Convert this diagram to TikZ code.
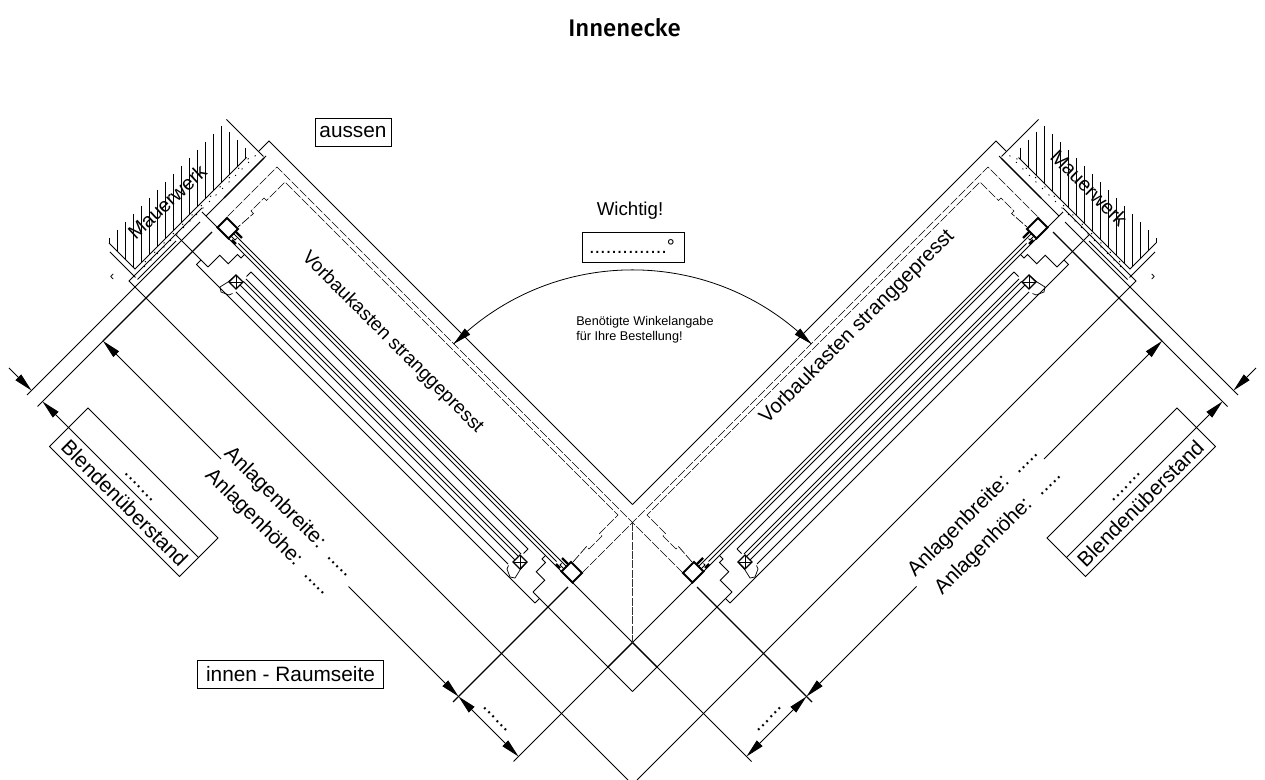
\documentclass[tikz,border=0pt]{standalone}
\usepackage{fontspec}
\setmainfont{Liberation Sans}
\newfontfamily\titlefont{Fira Sans Medium}
\usetikzlibrary{arrows.meta}
\tikzset{
  sc/.style={x={(0.375pt,-0.375pt)},y={(-0.375pt,-0.375pt)}},
  ln/.style={line width=0.55pt},
  thickln/.style={line width=1pt},
  boxln/.style={line width=1.4pt},
  dashln/.style={line width=0.5pt,dash pattern=on 7pt off 1.5pt},
  arr/.style={line width=0.55pt,-{Triangle[length=14pt,width=6pt]}},
  arrboth/.style={line width=0.55pt,{Triangle[length=14pt,width=6pt]}-{Triangle[length=14pt,width=6pt]}},
  lbl/.style={inner sep=0pt,anchor=base,font=\fontsize{15.6pt}{18pt}\selectfont},
  boxed/.style={draw,line width=0.6pt,inner sep=0pt,font=\fontsize{15.6pt}{18pt}\selectfont}
}
\newcommand{\srect}[4]{(#1,#2)--(#3,#2)--(#3,#4)--(#1,#4)--cycle}
\newcommand{\winend}[2]{%
  \begin{scope}[shift={(800,0)},x={({#1*0.375pt},{-#1*0.375pt})}]
    % end box of the frame
    \draw[boxln] \srect{333}{-9}{355}{10};
    \draw[ln] (325,59)--(325,35.5)--(308,35.5)--(308,17)--(301,17)--(301,10);
    \draw[ln] (277,21)--(277,30);
    % glazing block
    \begin{scope}[shift={(0,#2)}]
    \draw[thickln] \srect{275}{35}{289}{49};
    \draw[ln] (275,35)--(289,49) (275,49)--(289,35);
    \draw[ln] (274,57)--(276,62)--(287,67)--(293,63)--(290,50)--(289,35);
    \end{scope}
    % small clip
    \draw[ln] (320,0)--(333,0)--(333,5)--(325,5)--(325,2);
    \draw[line width=1.6pt] (320,-4)--(333,-4);
    \draw[line width=1.8pt] (320,8)--(328,8);
  \end{scope}
}
\newcommand{\halfdraw}{%
  \begin{scope}[sc]
    % wall
    \draw[ln] (352,134)--(404,134)--(404,-89);
    \draw[ln] (362,142)--(413,142);
    \draw[ln] (346,-107)--(420,-107);
    \draw[line width=0.6pt,dash pattern=on 0.9pt off 6pt] (411,-100)--(411,130);
    \draw[line width=0.6pt,dash pattern=on 0.9pt off 9pt] (407,-90)--(407,125);
    % outer box
    \draw[ln] (1137,-128)--(410,-128)--(410,-108);
    \draw[ln] (410,6)--(410,152)--(1408,152);
    \draw[ln] (417,142)--(417,65);
    % dashed inner outlines
    \draw[dashln] (1155,-9)--(1155,-110)--(444,-110)--(444,-7);
    \draw[dashln] (1135,-11)--(1133,-40)--(1138,-40)--(1138,-66)--(1133,-66)--(1133,-103)--(467,-103)--(467,-66)--(462,-66)--(462,-40)--(467,-40)--(465,-11);
    % extension lines
    \draw[ln] (422,368)--(422,22);
    \draw[ln] (422,10)--(422,-110);
    \draw[thickln] (422,-26)--(422,-106);
    \draw[ln] (444,369)--(444,238);
    \draw[thickln] (444,238)--(444,20);
    \draw[thickln] (1155,249)--(1155,19);
    \draw[ln] (1513,10)--(414,10);
    \draw[thickln] (1275,10)--(1324,10);
    \draw[ln] (410,59)--(475,59);
    \draw[ln] (1125,59)--(1324,59);
    \draw[ln] (1138,68)--(461,68)--(461,59);
    \draw[ln] (1138,68)--(1138,59);
    % window lines
    \foreach \c/\d in {0/320,5/318,21/277,33/275,38/275,45/275,56/272}
      \draw[ln] ({800-\d},\c)--({800+\d},\c);
    \winend{1}{0}
    \winend{-1}{4}
    % dimensions
    \draw[arr] (680,238)--(444,238);
    \draw[arr] (935,238)--(1155,238);
    \draw[arrboth] (1155,238)--(1275,238);
    \draw[arr] (377,359)--(422,359);
    \draw[arr] (497,359)--(444,359);
    \draw[ln] \srect{496}{320}{756}{397};
    \draw[ln] (496,359)--(756,359);
  \end{scope}
  % hatching
  \foreach \hx in {109,117,...,245}{
    \pgfmathsetmacro\ytop{max(347-\hx,\hx-97)}
    \pgfmathsetmacro\ybot{min(404-\hx,\hx+134)}
    \draw[line width=0.5pt] (\hx,\ytop)--(\hx,\ybot);
  }
  % angle arrow
  \draw[arr] (467,332)--(453.6,344);
}
\begin{document}
\begin{tikzpicture}[x=0.75pt,y=-0.75pt,line cap=butt]
\useasboundingbox (0,0) rectangle (1265,780);
\fill[white] (0,0) rectangle (1265,780);
\halfdraw
\begin{scope}[xshift=948.75pt,xscale=-1]
\halfdraw
\end{scope}
% centre line
\draw[line width=1.1pt,dash pattern=on 6pt off 1pt,black!80] (632.5,523)--(632.5,643);
% angle arc
\draw[line width=0.6pt] (453.6,344) arc[start angle=135,end angle=45,radius=189.75pt];
% texts
\node[inner sep=0pt,font=\titlefont\fontsize{18pt}{18pt}\selectfont] (title) at (624.5,28) {Innenecke};
\node[boxed,minimum width=57pt,minimum height=21pt] (aussen) at (353,132) {aussen};
\node[boxed,minimum width=140pt,minimum height=21pt] (innen) at (290.5,674) {innen - Raumseite};
\node[lbl,font=\fontsize{14pt}{16pt}\selectfont] (wichtig) at (630,216) {Wichtig!};
\node[draw,line width=0.6pt,minimum width=76.5pt,minimum height=23pt,inner sep=0pt] (anglebox) at (633,247.5) {};
\node[lbl,font=\fontsize{15pt}{16pt}\selectfont] (angleval) at (632,254) {..............°};
\node[inner sep=0pt,anchor=west,align=left,font=\fontsize{9.5pt}{11.25pt}\selectfont] (hint) at (576,330) {Benötigte Winkelangabe\\für Ihre Bestellung!};
\node[lbl,font=\fontsize{15pt}{17pt}\selectfont,rotate=43] (wallL) at (172,207) {Mauerwerk};
\node[lbl,font=\fontsize{15pt}{17pt}\selectfont,rotate=-45] (wallR) at (1084,193) {Mauerwerk};
\node[lbl,font=\fontsize{14.3pt}{17pt}\selectfont,rotate=-45] (kastenL) at (389,346) {Vorbaukasten stranggepresst};
\node[lbl,font=\fontsize{15.3pt}{17pt}\selectfont,rotate=45] (kastenR) at (861,331) {Vorbaukasten stranggepresst};
\node[lbl,rotate=-45] (breiteL) at (285,516) {Anlagenbreite:\ \ .....};
\node[lbl,rotate=-45] (hoeheL) at (264,536) {Anlagenhöhe:\ \ .....};
\node[lbl,rotate=45] (breiteR) at (977,516) {Anlagenbreite:\ \ .....};
\node[lbl,rotate=45] (hoeheR) at (1002,536) {Anlagenhöhe:\ \ .....};
\node[lbl,rotate=-45] (blendeL) at (119.5,508.5) {Blendenüberstand};
\node[lbl,rotate=45] (blendeR) at (1145.5,508.5) {Blendenüberstand};
\node[lbl,rotate=-45] (blendeLv) at (138,488) {.......};
\node[lbl,rotate=45] (blendeRv) at (1127,488) {.......};
\node[lbl,rotate=-45] (dimLv) at (494.5,720) {......};
\node[lbl,rotate=45] (dimRv) at (770,720) {......};
\node[inner sep=0pt,font=\fontsize{10pt}{10pt}\selectfont] (chevL) at (112,277) {‹};
\node[inner sep=0pt,font=\fontsize{10pt}{10pt}\selectfont] (chevR) at (1153,277) {›};
\end{tikzpicture}
\end{document}
